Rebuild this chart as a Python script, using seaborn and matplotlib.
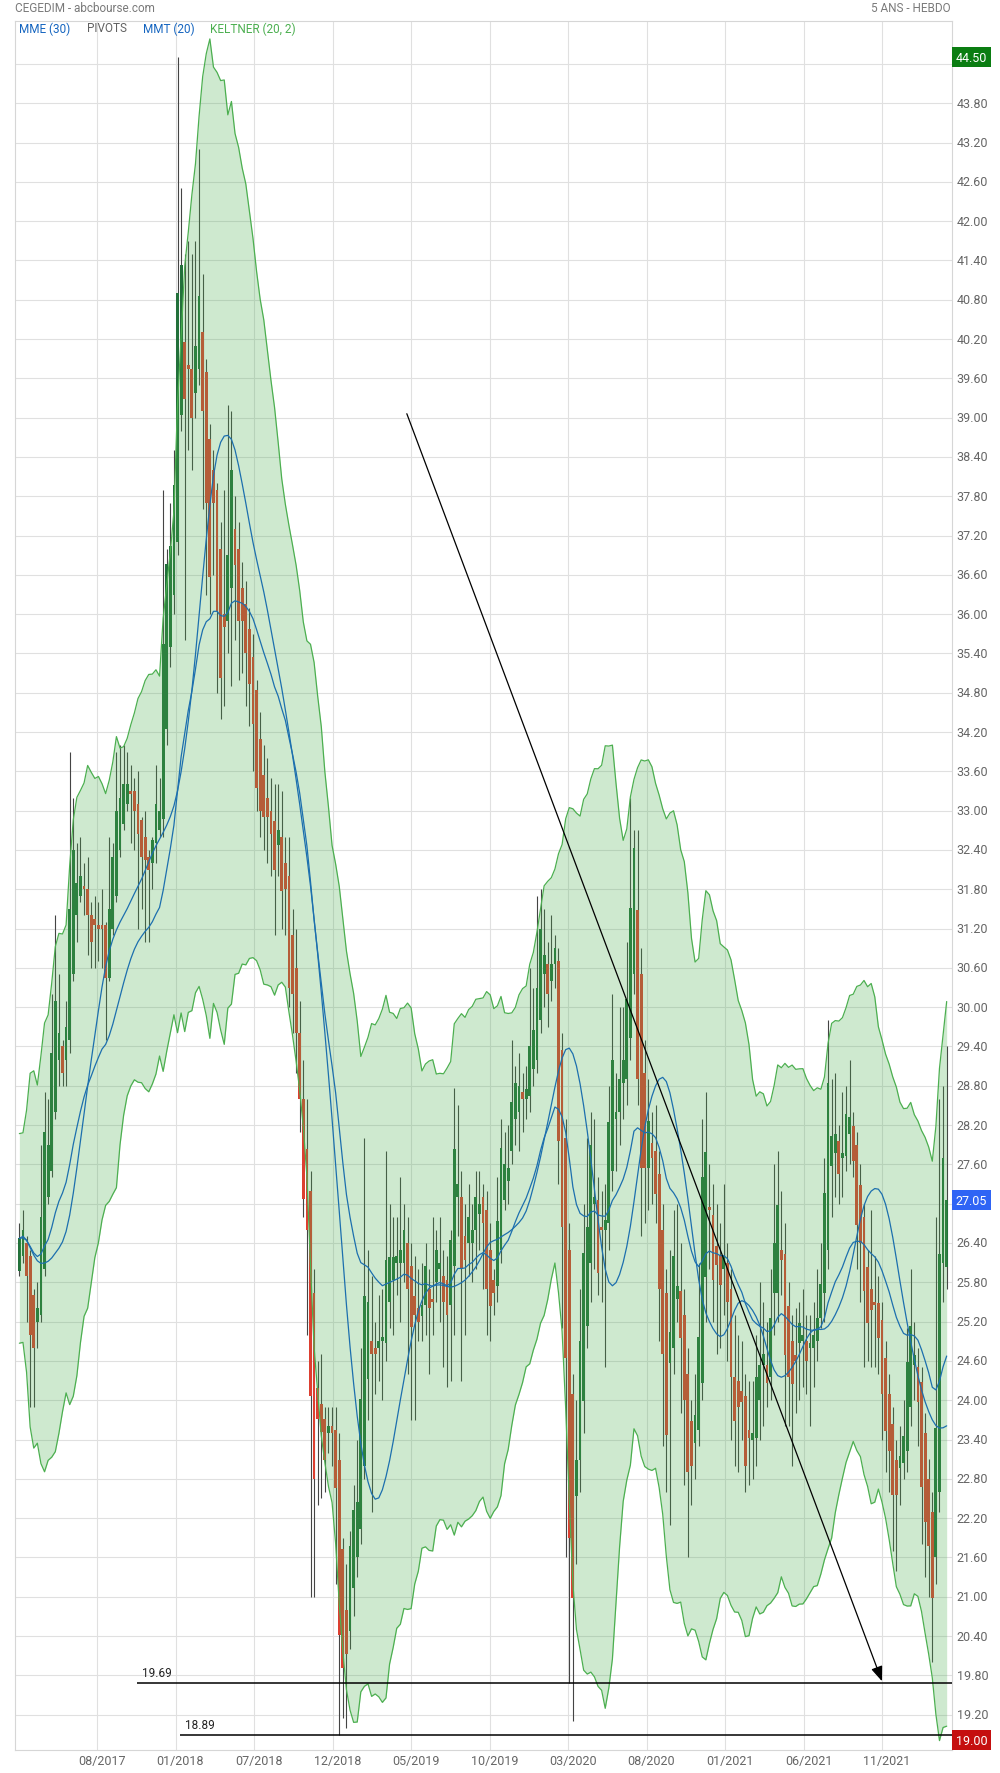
"""
CEGEDIM weekly candles, 5 years (abcbourse style)
Keltner channel + MME(30) + MMT(20), pivots and a trend line
"""

import numpy as np
import pandas as pd
import matplotlib
matplotlib.use("Agg")
import matplotlib.pyplot as plt
import seaborn as sns

# ---- data ----
TITLE_LEFT = "CEGEDIM - abcbourse.com"
TITLE_RIGHT = "5 ANS - HEBDO"
LEGEND_ITEMS = [("MME (30)", "#1565c0"), ("PIVOTS", "#616161"),
                ("MMT (20)", "#1565c0"), ("KELTNER (20, 2)", "#4caf50")]
X_TICK_LABELS = ["08/2017", "01/2018", "07/2018", "12/2018", "05/2019", "10/2019",
                 "03/2020", "08/2020", "01/2021", "06/2021", "11/2021"]

OPEN = [
    25.97, 26.2, 26.4, 26.2, 25.6, 25.2, 25.3, 26.0, 27.1, 27.5,
    28.4, 29.2, 29.4, 29.2, 29.5, 30.5, 31.4, 31.7, 31.85, 31.8,
    31.4, 31.35, 31.25, 31.25, 31.25, 30.45, 31.2, 31.7, 32.4, 32.8,
    33.1, 33.3, 33.3, 33.1, 32.85, 32.6, 32.3, 32.2, 32.5, 32.7,
    32.88, 34.24, 35.5, 36.3, 37.1, 39.04, 40.16, 39.8, 39.74, 39.37,
    39.74, 40.3, 39.7, 38.67, 38.2, 37.9, 36.99, 36.0, 35.9, 36.4,
    37.3, 37.0, 36.4, 36.15, 35.78, 35.35, 34.84, 34.1, 33.54, 33.2,
    33.0, 32.84, 32.47, 32.6, 32.2, 32.0, 31.1, 30.6, 29.6, 28.6,
    27.83, 27.2, 25.63, 24.19, 23.94, 23.72, 23.5, 23.6, 23.55, 23.09,
    21.73, 20.8, 20.48, 21.14, 21.6, 22.03, 23.0, 24.32, 24.91, 24.8,
    24.8, 24.9, 24.87, 25.5, 25.84, 26.1, 26.1, 26.1, 26.4, 26.05,
    25.59, 25.4, 25.29, 25.46, 25.7, 25.55, 25.8, 26.0, 25.9, 25.84,
    25.46, 26.05, 27.1, 27.1, 26.5, 26.4, 26.4, 26.6, 26.85, 27.1,
    26.9, 26.3, 25.84, 25.74, 26.3, 27.05, 27.35, 27.8, 28.3, 28.4,
    28.7, 28.6, 28.65, 29.05, 29.2, 29.8, 30.5, 30.66, 30.4, 30.66,
    30.7, 29.35, 28.0, 26.3, 24.1, 22.53, 23.09, 23.99, 25.14, 26.1,
    27.0, 27.05, 26.65, 26.6, 26.7, 27.5, 28.3, 28.4, 28.85, 28.9,
    29.53, 30.51, 31.48, 30.5, 29.0, 27.54, 27.92, 27.8, 27.45, 26.6,
    25.63, 24.57, 24.8, 25.54, 25.67, 25.3, 24.4, 23.68, 23.34, 23.55,
    24.27, 25.88, 26.95, 26.82, 26.35, 26.22, 26.0, 26.1, 25.7, 24.36,
    24.3, 24.14, 24.06, 23.55, 23.4, 23.43, 24.0, 24.53, 24.53, 24.36,
    25.63, 25.63, 26.3, 26.23, 25.44, 24.9, 24.69, 24.88, 24.9, 24.9,
    24.8, 24.8, 24.9, 25.25, 25.63, 26.3, 27.58, 27.77, 27.95, 27.69,
    27.73, 28.07, 28.18, 27.9, 27.28, 26.8, 26.04, 25.7, 25.5, 25.48,
    25.22, 24.65, 24.09, 23.64, 23.08, 22.97, 23.04, 23.23, 23.9, 24.54,
    24.5, 24.28, 23.5, 22.8, 22.29, 21.6, 22.6, 26.1, 26.04,
]
CLOSE = [
    26.47, 26.6, 25.9, 25.0, 24.8, 25.4, 26.8, 28.1, 27.9, 29.3,
    30.1, 29.6, 29.0, 29.7, 31.5, 32.4, 31.9, 32.0, 31.8, 31.4,
    31.0, 31.25, 31.2, 31.2, 30.45, 31.5, 32.3, 33.0, 33.2, 33.4,
    33.4, 33.25, 33.0, 32.65, 32.3, 32.25, 32.1, 32.55, 33.1, 33.0,
    35.54, 36.76, 37.04, 37.97, 40.9, 41.33, 39.28, 39.75, 39.0, 40.1,
    40.86, 39.1, 37.7, 36.57, 37.7, 36.05, 35.03, 35.8, 36.9, 38.2,
    36.75, 35.9, 35.9, 35.4, 34.94, 34.33, 33.35, 33.0, 32.9, 32.9,
    32.65, 32.09, 32.7, 31.77, 31.8, 30.3, 30.2, 29.6, 28.6, 27.07,
    26.6, 24.06, 22.79, 23.72, 23.51, 23.09, 23.6, 23.5, 22.66, 20.42,
    19.91, 20.12, 21.77, 22.33, 22.45, 24.02, 25.59, 25.5, 24.7, 24.7,
    24.9, 24.96, 26.14, 26.18, 26.18, 26.2, 26.3, 26.6, 25.7, 25.12,
    25.3, 25.2, 25.46, 26.05, 25.4, 25.5, 26.3, 26.1, 25.5, 25.3,
    26.44, 27.83, 27.3, 26.0, 26.14, 26.8, 26.6, 27.1, 27.0, 26.7,
    25.7, 25.44, 25.64, 26.74, 27.85, 27.6, 27.55, 28.55, 28.85, 28.8,
    28.6, 28.75, 29.4, 29.65, 30.3, 31.2, 30.8, 30.2, 30.66, 30.9,
    27.95, 26.65, 24.64, 21.9, 20.98, 23.09, 24.9, 26.24, 26.65, 27.9,
    27.1, 25.94, 26.6, 26.75, 28.25, 29.2, 28.4, 28.9, 29.2, 30.12,
    31.52, 32.43, 28.9, 27.54, 27.54, 28.26, 27.7, 27.15, 25.7, 24.7,
    23.47, 25.04, 26.2, 25.75, 24.95, 24.0, 22.9, 23.0, 23.77, 24.97,
    27.41, 27.79, 26.9, 25.84, 26.06, 25.76, 26.2, 25.5, 24.36, 23.68,
    23.9, 23.97, 23.0, 23.43, 23.5, 24.36, 24.53, 24.7, 24.27, 25.25,
    26.4, 26.98, 26.14, 24.69, 24.35, 24.24, 24.6, 25.18, 25.0, 24.6,
    24.88, 25.0, 25.25, 25.78, 27.17, 28.85, 28.03, 28.07, 27.46, 27.77,
    28.37, 28.33, 27.65, 26.68, 26.4, 25.67, 25.18, 25.37, 25.45, 24.95,
    24.09, 23.53, 23.23, 22.55, 22.55, 23.15, 23.45, 24.58, 25.14, 24.69,
    23.98, 22.67, 22.14, 21.77, 20.98, 23.57, 26.23, 27.69, 27.05,
]
HIGH = [
    26.7, 26.9, 26.5, 26.3, 25.7, 25.8, 27.9, 28.7, 28.6, 30.2,
    31.4, 30.5, 29.5, 30.1, 33.9, 33.2, 32.5, 32.6, 32.2, 32.3,
    31.6, 31.7, 31.6, 31.8, 31.3, 32.6, 32.5, 33.9, 34.0, 34.0,
    33.9, 33.7, 33.5, 33.6, 32.9, 33.0, 32.4, 32.6, 33.7, 33.5,
    37.9, 37.0, 37.7, 38.5, 44.5, 42.5, 41.5, 41.7, 41.5, 41.7,
    43.1, 41.2, 39.9, 38.9, 38.5, 38.0, 37.4, 37.9, 39.2, 39.1,
    37.8, 37.4, 36.8, 36.5, 36.1, 35.7, 35.0, 34.5, 34.0, 33.8,
    33.5, 33.4, 33.4, 33.3, 32.6, 32.6, 31.5, 31.2, 30.1, 29.2,
    28.6, 27.5, 26.0, 24.6, 24.7, 23.9, 23.9, 23.9, 23.9, 23.5,
    21.9, 21.5, 22.0, 22.7, 23.4, 24.8, 28.0, 26.3, 25.9, 25.2,
    25.6, 25.7, 27.8, 27.0, 26.8, 26.8, 27.4, 27.0, 26.8, 26.4,
    26.2, 26.0, 26.1, 26.4, 26.0, 26.8, 26.6, 26.8, 26.3, 26.2,
    26.6, 28.77, 28.5, 27.5, 27.0, 27.3, 27.0, 27.5, 27.5, 27.3,
    27.2, 26.7, 26.0, 27.4, 28.3, 28.1, 28.2, 29.5, 29.1, 29.3,
    29.0, 29.1, 30.6, 30.3, 31.7, 31.8, 31.5, 31.0, 31.4, 31.1,
    30.9, 29.6, 28.3, 26.7, 24.4, 24.0, 25.7, 27.0, 28.0, 28.4,
    28.3, 27.4, 27.2, 27.3, 28.8, 30.2, 29.0, 30.0, 30.0, 31.0,
    33.2, 32.7, 32.7, 30.9, 29.5, 28.9, 28.4, 28.5, 27.8, 27.0,
    26.0, 26.3, 26.9, 27.0, 26.4, 25.7, 24.8, 24.0, 24.4, 26.1,
    28.3, 28.7, 27.6, 27.3, 27.0, 26.7, 27.3, 26.4, 26.0, 25.3,
    25.0, 24.9, 24.4, 24.3, 24.3, 25.0, 25.8, 25.5, 25.2, 26.0,
    27.6, 27.8, 27.2, 26.7, 25.8, 25.3, 25.4, 25.5, 25.7, 25.3,
    25.3, 25.5, 26.0, 26.4, 27.7, 29.8, 28.9, 29.0, 28.2, 28.7,
    28.8, 29.2, 28.4, 28.1, 27.6, 27.0, 26.3, 26.9, 26.2, 25.9,
    25.5, 24.9, 24.4, 23.9, 23.4, 23.6, 24.0, 25.1, 26.0, 25.2,
    24.8, 24.5, 23.8, 23.1, 22.6, 26.8, 28.6, 28.8, 29.4,
]
LOW = [
    25.9, 26.1, 25.2, 23.9, 23.9, 24.8, 25.2, 25.9, 27.0, 27.4,
    28.3, 28.8, 28.8, 28.8, 29.3, 30.4, 31.0, 31.6, 31.4, 30.8,
    30.6, 30.6, 30.7, 30.6, 29.5, 30.4, 31.1, 31.6, 32.3, 32.7,
    33.0, 32.5, 32.4, 31.2, 31.5, 31.0, 31.0, 31.8, 32.2, 32.6,
    32.6, 34.0, 35.2, 36.0, 36.9, 38.8, 35.6, 38.5, 38.2, 39.0,
    39.5, 37.6, 36.3, 36.0, 36.6, 34.8, 34.4, 34.6, 35.4, 34.9,
    35.6, 35.0, 35.1, 34.6, 34.3, 33.6, 33.0, 32.6, 32.4, 32.2,
    32.0, 31.1, 32.0, 31.2, 31.1, 30.0, 29.6, 29.0, 28.1, 26.8,
    25.0, 21.0, 21.0, 22.4, 22.5, 22.6, 23.2, 23.0, 21.2, 18.89,
    19.15, 19.0, 20.2, 20.7, 21.3, 21.8, 22.8, 23.7, 22.3, 24.1,
    24.3, 24.0, 24.6, 25.1, 25.0, 25.6, 25.2, 25.8, 24.4, 23.7,
    23.7, 24.9, 24.9, 25.0, 24.4, 25.0, 25.5, 25.2, 24.5, 24.2,
    24.3, 25.0, 26.5, 24.3, 25.0, 25.9, 25.8, 26.0, 26.3, 25.7,
    25.0, 24.9, 25.3, 25.5, 26.1, 26.9, 27.0, 27.6, 27.9, 27.8,
    28.1, 28.3, 28.4, 28.8, 29.0, 29.6, 30.0, 29.7, 30.1, 30.3,
    27.3, 25.1, 21.6, 19.69, 19.1, 21.5, 22.6, 23.5, 24.8, 25.5,
    26.0, 25.6, 25.5, 24.5, 26.3, 27.2, 27.5, 27.9, 28.3, 28.5,
    29.2, 30.2, 28.5, 26.5, 26.7, 26.9, 27.0, 26.7, 24.9, 23.3,
    22.6, 22.1, 24.4, 25.2, 23.8, 22.7, 21.6, 22.4, 22.8, 23.3,
    24.0, 25.2, 26.0, 25.2, 24.7, 24.8, 25.3, 24.6, 23.4, 23.0,
    22.9, 23.4, 22.6, 22.7, 22.8, 23.0, 23.4, 23.6, 23.9, 24.0,
    25.0, 25.2, 25.6, 23.6, 23.6, 23.0, 23.8, 24.0, 24.2, 24.1,
    23.6, 24.2, 24.6, 25.1, 25.2, 26.0, 26.8, 27.1, 27.0, 27.1,
    27.5, 27.6, 27.4, 26.0, 25.5, 24.5, 24.6, 24.5, 24.5, 24.4,
    23.4, 22.9, 22.6, 21.7, 21.4, 22.4, 22.8, 22.9, 23.6, 24.0,
    23.3, 21.8, 21.3, 21.0, 20.0, 21.2, 22.3, 25.5, 25.7,
]

PIVOT_LEVELS = [19.69, 18.89]
PIVOT_FROM = [32.7, 44.7]          # week index where each pivot line starts
TREND_FROM = (107.8, 39.06)        # hand-drawn trend line (week index, price)
TREND_TO = (240.0, 19.71)
HIGH_LABEL = "44.50"
LAST_LABEL = "27.05"
LOW_LABEL = "19.00"

# ---- style ----
sns.set_style("white")
plt.rcParams['font.family'] = ['Roboto', 'DejaVu Sans']

GREEN = "#22703a"
RED = "#dc3f30"
WICK = "#444444"
KELT = "#4caf50"
MA_BLUE = "#1c6fae"
GRID = "#e0e0e0"
TXT = "#666666"

df = pd.DataFrame({"open": OPEN, "high": HIGH, "low": LOW, "close": CLOSE})
df["idx"] = np.arange(len(df))
n = len(df)

# indicators
df["mme30"] = df["close"].ewm(span=30, adjust=False).mean()
df["mmt20"] = df["close"].rolling(10, min_periods=1).mean().rolling(11, min_periods=1).mean()
prev_close = df["close"].shift(1).fillna(df["open"].iloc[0])
tr = pd.concat([df["high"] - df["low"],
                (df["high"] - prev_close).abs(),
                (df["low"] - prev_close).abs()], axis=1).max(axis=1)
atr = tr.rolling(14, min_periods=1).mean()
mid = df["close"].ewm(span=20, adjust=False).mean()
df["kup"] = mid + 2 * atr
df["kdn"] = mid - 2 * atr

fig = plt.figure(figsize=(10, 17.74), dpi=100)
ax = fig.add_axes([0.0147, 0.01297, 0.937, 0.9748])

# candles (under the translucent channel fill)
up = df["close"] >= df["open"]
ax.vlines(df["idx"], df["low"], df["high"], color=WICK, lw=0.8, zorder=2)
body = (df["close"] - df["open"]).where((df["close"] - df["open"]).abs() > 0.04, 0.04)
ax.bar(df["idx"], body, bottom=df["open"], width=0.78,
       color=np.where(up, GREEN, RED), linewidth=0, zorder=3)

# Keltner channel
ax.fill_between(df["idx"], df["kdn"], df["kup"], color=KELT, alpha=0.27, lw=0, zorder=4)
sns.lineplot(data=df, x="idx", y="kup", color=KELT, lw=0.9, ax=ax, zorder=5)
sns.lineplot(data=df, x="idx", y="kdn", color=KELT, lw=0.9, ax=ax, zorder=5)

# moving averages
sns.lineplot(data=df, x="idx", y="mme30", color=MA_BLUE, lw=0.9, ax=ax, zorder=6)
sns.lineplot(data=df, x="idx", y="mmt20", color=MA_BLUE, lw=0.9, ax=ax, zorder=6)

x_min, x_max = -1.3, n - 1 + 1.4
y_min, y_max = 18.66, 45.06

# pivots
for lvl, start in zip(PIVOT_LEVELS, PIVOT_FROM):
    ax.hlines(lvl, start, x_max, color="black", lw=1.1, zorder=7)
    ax.text(start + 1.3, lvl + 0.06, f"{lvl:.2f}", fontsize=8.5, color="#222222",
            va="bottom", ha="left", zorder=7)

# trend line with arrow head
ax.annotate("", xy=TREND_TO, xytext=TREND_FROM, zorder=8,
            arrowprops=dict(arrowstyle="-|>,head_length=0.9,head_width=0.35",
                            color="black", lw=0.9, shrinkA=0, shrinkB=0))

ax.set_xlim(x_min, x_max)
ax.set_ylim(y_min, y_max)

# grid
grid_y = np.arange(19.2, 44.41, 0.6)
tick_step = 21.85
tick_x = 21.6 + tick_step * np.arange(len(X_TICK_LABELS))
ax.set_yticks(grid_y)
ax.set_xticks(tick_x)
ax.set_yticklabels([])
ax.set_xticklabels([])
ax.tick_params(length=0)
ax.grid(True, color=GRID, lw=0.8, zorder=0)
ax.set_axisbelow(True)
ax.set_xlabel("")
ax.set_ylabel("")
for sp in ax.spines.values():
    sp.set_color("#d6d6d6")
    sp.set_linewidth(0.8)

# right price scale
ytr = ax.get_yaxis_transform()
for v in grid_y[:-1]:
    ax.text(1.0053, v, f"{v:.2f}", transform=ytr, fontsize=9, color=TXT,
            va="center", ha="left", clip_on=False)
box_kw = dict(boxstyle="square,pad=0.28", ec="none")
ax.text(1.0045, float(HIGH_LABEL), HIGH_LABEL, transform=ytr, fontsize=9, color="white",
        va="center", ha="left", bbox=dict(fc="#0b7d12", **box_kw), clip_on=False)
ax.text(1.0045, float(LAST_LABEL), LAST_LABEL, transform=ytr, fontsize=9, color="white",
        va="center", ha="left", bbox=dict(fc="#2f64f5", **box_kw), clip_on=False)
ax.text(1.0045, 18.81, LOW_LABEL, transform=ytr, fontsize=9, color="white",
        va="center", ha="left", bbox=dict(fc="#c50f0f", **box_kw), clip_on=False)

# date labels
xtr = ax.get_xaxis_transform()
for xp, lab in zip(tick_x, X_TICK_LABELS):
    ax.text(xp + 1.3, -0.0062, lab, transform=xtr, fontsize=9, color=TXT,
            va="center", ha="center", clip_on=False)

# header and indicator legend
fig.text(0.0147, 1 - 8.5 / 1774, TITLE_LEFT, fontsize=8.5, color="#7a7a7a", va="center", ha="left")
fig.text(0.9507, 1 - 8.5 / 1774, TITLE_RIGHT, fontsize=8.5, color="#7a7a7a", va="center", ha="right")
leg_x = [19.3, 87, 142.7, 210]
for (lab, col), lx in zip(LEGEND_ITEMS, leg_x):
    fig.text(lx / 1000, 1 - 29 / 1774, lab, fontsize=8.5, color=col, va="center", ha="left")

fig.savefig("out.png", dpi=100)
